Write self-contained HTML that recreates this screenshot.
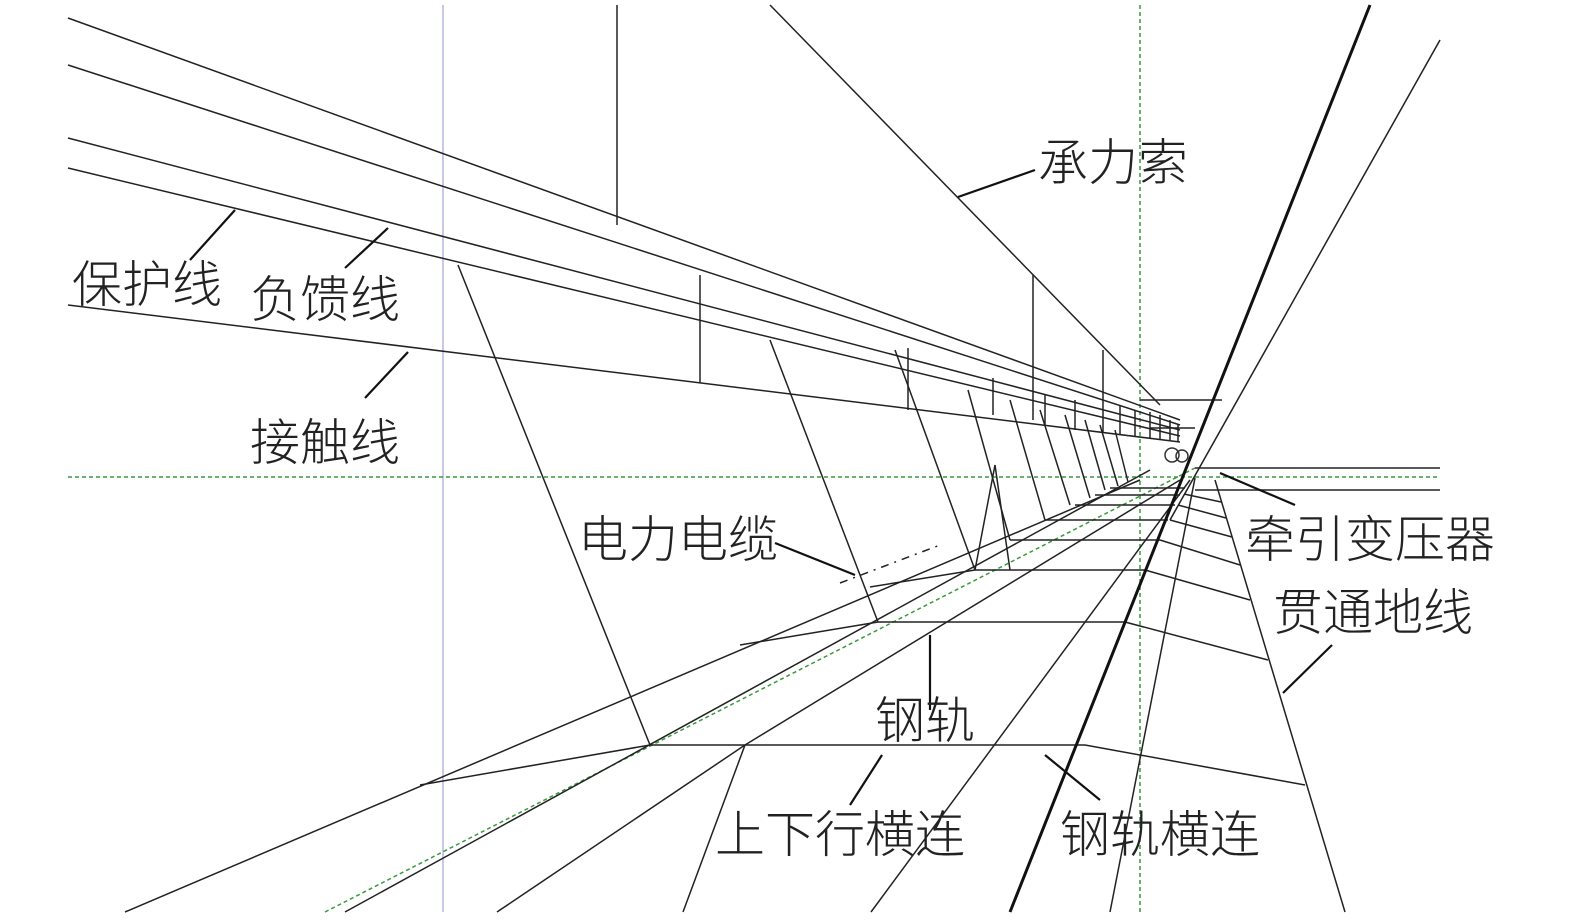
<!DOCTYPE html>
<html><head><meta charset="utf-8"><style>
html,body{margin:0;padding:0;background:#fff;}
svg{display:block;}
text{font-family:"Liberation Sans","Noto Sans CJK SC",sans-serif;font-size:50px;fill:#222;font-weight:300;}
</style></head><body>
<svg width="1575" height="923" viewBox="0 0 1575 923" xmlns="http://www.w3.org/2000/svg">
<g stroke="#c8c8e8" stroke-width="2"><line x1="443" y1="5" x2="443" y2="912"/></g>
<g stroke="#3a9a3a" stroke-width="1.5" stroke-dasharray="4,3" fill="none">
<line x1="1140" y1="5" x2="1140" y2="912"/>
<line x1="68" y1="477" x2="1440" y2="477"/>
<line x1="325" y1="912" x2="1195" y2="468"/>
</g>
<g stroke="#222" stroke-width="1.5" fill="none">
<line x1="68" y1="18" x2="1180" y2="420"/>
<line x1="68" y1="65" x2="1180" y2="425"/>
<line x1="68" y1="138" x2="1180" y2="430"/>
<line x1="68" y1="168" x2="1180" y2="436"/>
<line x1="68" y1="305" x2="1180" y2="442"/>
<line x1="770" y1="5" x2="1160" y2="405"/>
<line x1="1140" y1="400" x2="1222" y2="400"/>
<line x1="1150" y1="428" x2="1195" y2="428"/>
<line x1="617" y1="5" x2="617" y2="225"/>
<line x1="700" y1="275" x2="700" y2="383"/>
<line x1="908" y1="348" x2="908" y2="410"/>
<line x1="993" y1="378" x2="993" y2="415"/>
<line x1="1033" y1="275" x2="1033" y2="420"/>
<line x1="1045" y1="395" x2="1045" y2="425"/>
<line x1="1075" y1="400" x2="1075" y2="430"/>
<line x1="1103" y1="350" x2="1103" y2="432"/>
<line x1="1120" y1="405" x2="1120" y2="435"/>
<line x1="1135" y1="410" x2="1135" y2="437"/>
<line x1="1150" y1="412" x2="1150" y2="438"/>
<line x1="1160" y1="415" x2="1160" y2="440"/>
<line x1="1170" y1="420" x2="1170" y2="440"/>
<line x1="1178" y1="425" x2="1178" y2="442"/>
<line x1="458" y1="265" x2="650" y2="745"/>
<line x1="770" y1="340" x2="878" y2="622"/>
<line x1="895" y1="350" x2="975" y2="570"/>
<line x1="968" y1="390" x2="1010" y2="540"/>
<line x1="1010" y1="400" x2="1045" y2="520"/>
<line x1="1040" y1="410" x2="1070" y2="505"/>
<line x1="1065" y1="415" x2="1090" y2="498"/>
<line x1="1085" y1="420" x2="1105" y2="490"/>
<line x1="1100" y1="425" x2="1118" y2="486"/>
<line x1="1115" y1="430" x2="1128" y2="482"/>
<line x1="995" y1="465" x2="975" y2="570"/>
<line x1="995" y1="465" x2="1010" y2="570"/>
<line x1="125" y1="912" x2="1140" y2="480"/>
<line x1="345" y1="912" x2="1150" y2="470"/>
<line x1="420" y1="785" x2="650" y2="745"/>
<line x1="740" y1="645" x2="878" y2="622"/>
<line x1="870" y1="587" x2="975" y2="570"/>
<line x1="650" y1="745" x2="1085" y2="745"/>
<line x1="878" y1="622" x2="1125" y2="622"/>
<line x1="975" y1="570" x2="1145" y2="570"/>
<line x1="1010" y1="540" x2="1160" y2="540"/>
<line x1="1045" y1="520" x2="1168" y2="520"/>
<line x1="1075" y1="505" x2="1175" y2="505"/>
<line x1="1095" y1="495" x2="1180" y2="495"/>
<line x1="1110" y1="488" x2="1185" y2="488"/>
<line x1="497" y1="912" x2="745" y2="745"/>
<line x1="683" y1="912" x2="745" y2="745"/>
<line x1="745" y1="745" x2="1180" y2="480"/>
<line x1="871" y1="912" x2="1190" y2="480"/>
<line x1="1110" y1="912" x2="1195" y2="478"/>
<line x1="1440" y1="40" x2="1170" y2="520"/>
<line x1="1195" y1="468" x2="1440" y2="468"/>
<line x1="1195" y1="490" x2="1440" y2="490"/>
<line x1="1215" y1="480" x2="1345" y2="912"/>
<line x1="1085" y1="745" x2="1305" y2="785"/>
<line x1="1125" y1="622" x2="1268" y2="660"/>
<line x1="1145" y1="570" x2="1250" y2="600"/>
<line x1="1160" y1="540" x2="1240" y2="565"/>
<line x1="1170" y1="520" x2="1232" y2="537"/>
<line x1="1178" y1="505" x2="1226" y2="518"/>
<line x1="1184" y1="494" x2="1221" y2="502"/>
</g>
<line x1="1370" y1="5" x2="1010" y2="912" stroke="#111" stroke-width="3"/>
<circle cx="1172" cy="455" r="7" fill="none" stroke="#333" stroke-width="1.5"/>
<circle cx="1182" cy="456" r="6" fill="none" stroke="#333" stroke-width="1.5"/>
<g stroke="#111" stroke-width="2.2" fill="none">
<line x1="958" y1="197" x2="1035" y2="170"/>
<line x1="190" y1="260" x2="235" y2="210"/>
<line x1="345" y1="268" x2="388" y2="228"/>
<line x1="365" y1="398" x2="408" y2="352"/>
<line x1="775" y1="543" x2="855" y2="575"/>
<line x1="1220" y1="473" x2="1295" y2="505"/>
<line x1="1283" y1="693" x2="1332" y2="645"/>
<line x1="930" y1="635" x2="930" y2="710"/>
<line x1="850" y1="805" x2="882" y2="755"/>
<line x1="1045" y1="755" x2="1100" y2="800"/>
</g>
<line x1="840" y1="583" x2="940" y2="545" stroke="#222" stroke-width="1.5" stroke-dasharray="8,6,2,6"/>
<text x="1038" y="180">承力索</text>
<text x="72" y="302">保护线</text>
<text x="250" y="317">负馈线</text>
<text x="250" y="460">接触线</text>
<text x="578" y="557">电力电缆</text>
<text x="1245" y="557">牵引变压器</text>
<text x="1273" y="630">贯通地线</text>
<text x="875" y="738">钢轨</text>
<text x="715" y="852">上下行横连</text>
<text x="1060" y="852">钢轨横连</text>
</svg>
</body></html>
